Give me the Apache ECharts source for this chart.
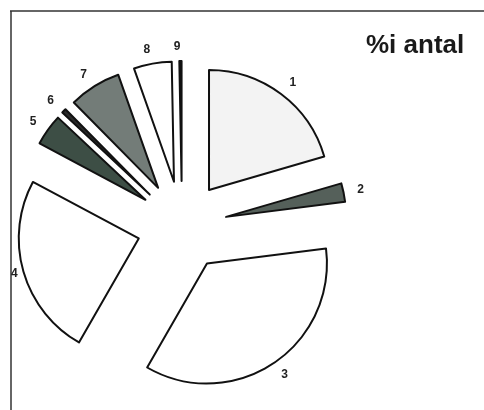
<!DOCTYPE html>
<html>
<head>
<meta charset="utf-8">
<script src="https://cdn.jsdelivr.net/npm/echarts@6/dist/echarts.min.js"></script>
<style>
html,body{margin:0;padding:0;background:#fff;}
#chart{width:484px;height:410px;}
</style>
</head>
<body>
<div id="chart"></div>
<script>
const categories = ['1','2','3','4','5','6','7','8','9'];
const values = [20.5, 2.5, 35.3, 24.5, 4.2, 0.6, 7.0, 5.1, 0.3];
const colors = ['#f3f3f3','#55605a','#ffffff','#ffffff','#3d4e45','#2a2a2a','#737c78','#ffffff','#111111'];
const titleText = '%i antal';

const chart = echarts.init(document.getElementById('chart'));
chart.setOption({
  animation: false,
  backgroundColor: '#ffffff',
  title: {
    text: titleText,
    left: 361,
    top: 28,
    textStyle: {fontFamily: 'Liberation Sans, Arial, sans-serif', fontSize: 26, fontWeight: 'bold', color: '#1a1a1a'}
  },
  graphic: [
    {type: 'line', shape: {x1: 10, y1: 11, x2: 484, y2: 11}, style: {stroke: '#333', lineWidth: 1.5}},
    {type: 'line', shape: {x1: 11, y1: 11, x2: 11, y2: 410}, style: {stroke: '#333', lineWidth: 1.5}}
  ],
  series: [{
    type: 'pie',
    center: [182, 226],
    radius: [0, 120],
    startAngle: 90,
    clockwise: true,
    avoidLabelOverlap: false,
    selectedMode: 'multiple',
    selectedOffset: 45,
    minAngle: 0,
    itemStyle: {borderColor: '#111', borderWidth: 2},
    label: {
      show: true,
      position: 'outside',
      formatter: '{b}',
      align: 'center',
      distanceToLabelLine: 0,
      fontFamily: 'Liberation Sans, Arial, sans-serif',
      fontWeight: 'bold',
      fontSize: 12,
      color: '#222'
    },
    labelLine: {show: false, length: 14, length2: 0},
    emphasis: {disabled: true},
    data: categories.map((c, i) => ({
      name: c,
      value: values[i],
      selected: true,
      itemStyle: {color: colors[i]},
      labelLine: c === '4' ? {show: false, length: 6, length2: 0} : undefined
    }))
  }]
});
</script>
</body>
</html>
